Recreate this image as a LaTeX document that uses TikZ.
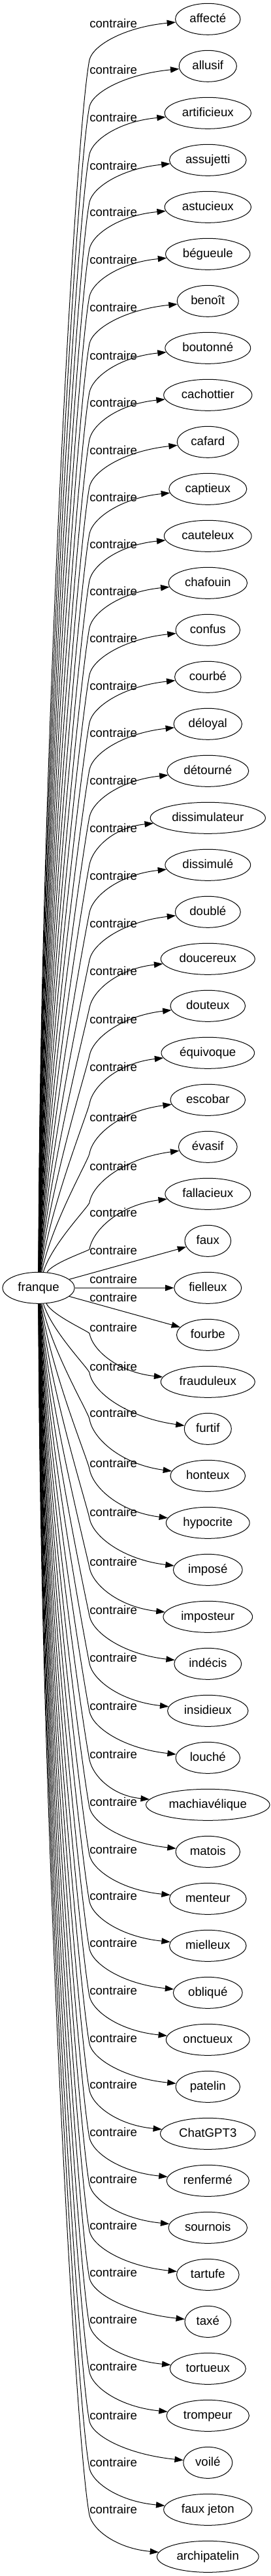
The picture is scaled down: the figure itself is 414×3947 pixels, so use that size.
\documentclass[tikz,border=0pt]{standalone}
\usepackage{fontspec}
\setmainfont{Liberation Sans}
\usetikzlibrary{calc, shapes.geometric}
\usetikzlibrary{arrows.meta}

\begin{document}
\begin{tikzpicture}[x=0.75pt,y=-0.75pt,
  word/.style={draw, ellipse, line width=0.75pt, inner xsep=5.5pt, inner ysep=2pt,
    minimum height=36pt, text height=10.5pt, text depth=3pt,
    font=\fontsize{14pt}{16pt}\selectfont},
  rel/.style={anchor=west, inner sep=0pt, font=\fontsize{14pt}{16pt}\selectfont},
  link/.style={line width=0.75pt, -{Triangle[length=10pt,width=7pt]}}]
\useasboundingbox (0,0) rectangle (414,3947);
\def\wordx{318.3}
\def\labx{137}
\def\roottop{1949}
\def\rootbot{1997}

\node[word] (franque) at (59,1973.3) {franque};

% one word, its label and its arrow per entry: name/text/label height
\foreach \nm/\txt/\ly [count=\i from 0] in {
  affecte/affecté/35.7, allusif/allusif/107.1, artificieux/artificieux/180.1,
  assujetti/assujetti/253.6, astucieux/astucieux/325, begueule/bégueule/398,
  benoit/benoît/470.4, boutonne/boutonné/544.9, cachottier/cachottier/617.3,
  cafard/cafard/689.8, captieux/captieux/761.7, cauteleux/cauteleux/833.4,
  chafouin/chafouin/905.8, confus/confus/977.8, courbe/courbé/1051.2,
  deloyal/déloyal/1123.2, detourne/détourné/1195.6, dissimulateur/dissimulateur/1268.6,
  dissimule/dissimulé/1342, double/doublé/1415, doucereux/doucereux/1488,
  douteux/douteux/1561.4, equivoque/équivoque/1635.1, escobar/escobar/1711.6,
  evasif/évasif/1786.6, fallacieux/fallacieux/1858.1, faux/faux/1915.7,
  fielleux/fielleux/1960.1, fourbe/fourbe/1988.2, frauduleux/frauduleux/2034.1,
  furtif/furtif/2094.3, honteux/honteux/2165.2, hypocrite/hypocrite/2241.7,
  impose/imposé/2317.2, imposteur/imposteur/2393, indecis/indécis/2466.9,
  insidieux/insidieux/2539.9, louche/louché/2613.4, machiavelique/machiavélique/2687.3,
  matois/matois/2760.3, menteur/menteur/2833.3, mielleux/mielleux/2904.7,
  oblique/obliqué/2977.1, onctueux/onctueux/3049.6, patelin/patelin/3122.6,
  chatgpt/ChatGPT3/3194.2, renferme/renfermé/3266.5, sournois/sournois/3338.4,
  tartufe/tartufe/3409.7, taxe/taxé/3481.6, tortueux/tortueux/3553.5,
  trompeur/trompeur/3625.8, voile/voilé/3701.2, fauxjeton/faux jeton/3773.1,
  archipatelin/archipatelin/3844.9}
{
  \pgfmathsetmacro{\ny}{29.3+72*\i}
  \node[word] (\nm) at (\wordx,\ny) {\txt};
  \node[rel] (l\i) at (\labx,\ly) {contraire};
  \ifnum\i<26
    % above franque: up the bundle, then out to the word
    \pgfmathsetmacro{\by}{\ly+56}
    \pgfmathsetmacro{\h}{\roottop-\by}
    \pgfmathsetmacro{\cx}{60+0.8*\i}
    \pgfmathsetmacro{\cy}{\roottop-0.4*\h}
    \pgfmathsetmacro{\m}{0.06*\h}
    \pgfmathsetmacro{\d}{\ny-\by}
    \coordinate (b\i) at (\labx,\by);
    \draw[link] (franque) .. controls (\cx,\cy) and ({\labx-0.2*\m},{\by+\m}) .. (b\i)
      .. controls ($(b\i)+(5,{0.35*\d})$) and ($(b\i)!0.4!(\nm.west)+(0,{0.4*\d})$) .. (\nm);
  \else
    \ifnum\i>28
      % below franque
      \pgfmathsetmacro{\by}{\ly+9}
      \pgfmathsetmacro{\h}{\by-\rootbot}
      \pgfmathsetmacro{\cx}{60+0.8*(54-\i)}
      \pgfmathsetmacro{\cy}{\rootbot+0.4*\h}
      \pgfmathsetmacro{\m}{0.06*\h}
      \pgfmathsetmacro{\d}{\ny-\by}
      \coordinate (b\i) at (\labx,\by);
      \draw[link] (franque) .. controls (\cx,\cy) and ({\labx-0.2*\m},{\by-\m}) .. (b\i)
        .. controls ($(b\i)+(5,{0.35*\d})$) and ($(b\i)!0.4!(\nm.west)+(0,{0.4*\d})$) .. (\nm);
    \else
      \draw[link] (franque) -- (\nm);
    \fi
  \fi
}
\end{tikzpicture}
\end{document}
